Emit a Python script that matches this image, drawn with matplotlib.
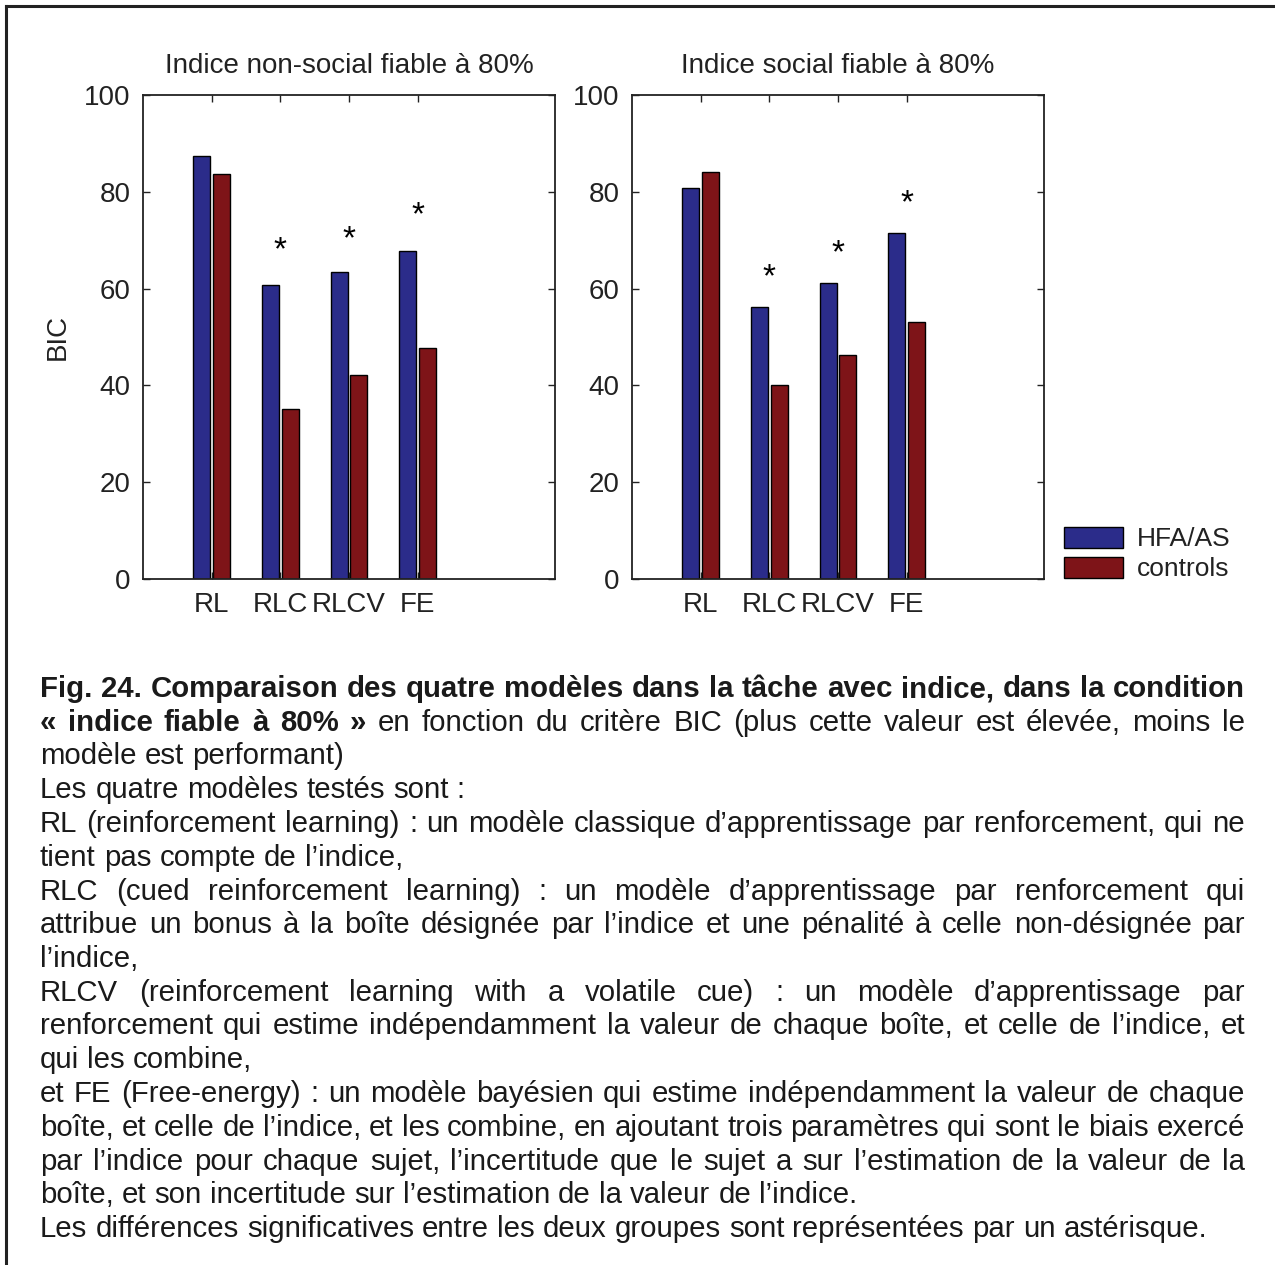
import matplotlib
matplotlib.use("Agg")
import matplotlib.pyplot as plt
from matplotlib.lines import Line2D
from matplotlib.patches import Patch
import numpy as np

plt.rcParams["font.family"] = ["Liberation Sans", "DejaVu Sans"]

# ── Data (BIC per model) ──────────────────────────────────────────────────────
models = ["RL", "RLC", "RLCV", "FE"]
groups = ["HFA/AS", "controls"]

nonsocial_hfa = [87.4, 60.8, 63.4, 67.7]
nonsocial_ctrl = [83.7, 35.2, 42.1, 47.8]
social_hfa = [80.7, 56.3, 61.2, 71.4]
social_ctrl = [84.1, 40.0, 46.3, 53.1]

# asterisk heights (significant group differences), one per model (None = no star)
nonsocial_stars = [None, 68.6, 70.9, 75.8]
social_stars = [None, 63.1, 68.0, 78.4]

titles = ["Indice non-social fiable à 80%", "Indice social fiable à 80%"]

BLUE = "#2b2c8a"
RED = "#7e1418"
INK = "#222222"

W, H = 1275, 1265
fig = plt.figure(figsize=(W / 100, H / 100), dpi=100)

# ── Bar panels ────────────────────────────────────────────────────────────────
AX_TOP, AX_BOT = 95, 579
AX_W = 412
panels = [
    (143, titles[0], nonsocial_hfa, nonsocial_ctrl, nonsocial_stars),
    (632, titles[1], social_hfa, social_ctrl, social_stars),
]
x = np.arange(1, len(models) + 1)
axes = []
for left, title, hfa, ctrl, stars in panels:
    ax = fig.add_axes([left / W, 1 - AX_BOT / H, AX_W / W, (AX_BOT - AX_TOP) / H])
    ax.bar(x - 0.143, hfa, width=0.25, color=BLUE, edgecolor="black", linewidth=1)
    ax.bar(x + 0.143, ctrl, width=0.25, color=RED, edgecolor="black", linewidth=1)
    for xi, s in zip(x, stars):
        if s is not None:
            ax.annotate("*", (xi, s), xytext=(0, -9), textcoords="offset points",
                        ha="center", va="baseline", fontsize=24, color="black")
    ax.set_xlim(0, 6)
    ax.set_ylim(0, 100)
    ax.set_xticks(x)
    ax.set_xticklabels(models)
    ax.set_yticks([0, 20, 40, 60, 80, 100])
    ax.tick_params(direction="in", length=5, width=1, top=True, right=True,
                   labelsize=20, labelcolor=INK, color=INK, pad=9)
    for sp in ax.spines.values():
        sp.set_color(INK)
        sp.set_linewidth(1.3)
    ax.set_title(title, fontsize=20, color=INK, pad=16)
    axes.append(ax)

axes[0].set_ylabel("BIC", fontsize=20, color=INK)
axes[0].yaxis.set_label_coords(-0.175, 0.5)

handles = [Patch(facecolor=BLUE, edgecolor="black"), Patch(facecolor=RED, edgecolor="black")]
axes[1].legend(handles, groups, loc="lower left", bbox_to_anchor=(1 + 20 / AX_W, -0.005),
               frameon=False, borderaxespad=0, borderpad=0, fontsize=19,
               handlelength=2.25, handleheight=0.85, labelspacing=0.2, handletextpad=0.5,
               labelcolor=INK)

# ── Frame (top and left rules) ────────────────────────────────────────────────
fig.add_artist(Line2D([6 / W, 1], [1 - 6 / H] * 2, transform=fig.transFigure,
                      color=INK, lw=2.2))
fig.add_artist(Line2D([6 / W] * 2, [0, 1 - 6 / H], transform=fig.transFigure,
                      color=INK, lw=2.2))

# ── Caption (justified, word by word) ─────────────────────────────────────────
caption = [
    ([("Fig. 24. Comparaison des quatre modèles dans la tâche avec indice, dans la condition", "bold")], True),
    ([("« indice fiable à 80% »", "bold"),
      ("en fonction du critère BIC (plus cette valeur est élevée, moins le", "normal")], True),
    ([("modèle est performant)", "normal")], False),
    ([("Les quatre modèles testés sont :", "normal")], False),
    ([("RL (reinforcement learning) : un modèle classique d’apprentissage par renforcement, qui ne", "normal")], True),
    ([("tient pas compte de l’indice,", "normal")], False),
    ([("RLC (cued reinforcement learning) : un modèle d’apprentissage par renforcement qui", "normal")], True),
    ([("attribue un bonus à la boîte désignée par l’indice et une pénalité à celle non-désignée par", "normal")], True),
    ([("l’indice,", "normal")], False),
    ([("RLCV (reinforcement learning with a volatile cue) : un modèle d’apprentissage par", "normal")], True),
    ([("renforcement qui estime indépendamment la valeur de chaque boîte, et celle de l’indice, et", "normal")], True),
    ([("qui les combine,", "normal")], False),
    ([("et FE (Free-energy) : un modèle bayésien qui estime indépendamment la valeur de chaque", "normal")], True),
    ([("boîte, et celle de l’indice, et les combine, en ajoutant trois paramètres qui sont le biais exercé", "normal")], True),
    ([("par l’indice pour chaque sujet, l’incertitude que le sujet a sur l’estimation de la valeur de la", "normal")], True),
    ([("boîte, et son incertitude sur l’estimation de la valeur de l’indice.", "normal")], False),
    ([("Les différences significatives entre les deux groupes sont représentées par un astérisque.", "normal")], False),
]

X0, X1 = 40, 1245
Y0, DY = 697, 33.75
renderer = fig.canvas.get_renderer()


def text_width(s, fs, weight="normal"):
    t = fig.text(0, 0, s, fontsize=fs, weight=weight)
    w = t.get_window_extent(renderer).width
    t.remove()
    return w


# pick the size so the last (unjustified) line ends where it does in the figure
fs = 18
fs = fs * (1165 / text_width(caption[-1][0][0][0], fs))
space = text_width("a a", fs) - text_width("aa", fs)

for i, (segments, justify) in enumerate(caption):
    words = [(w, wt) for txt, wt in segments for w in txt.split()]
    widths = [text_width(w, fs, wt) for w, wt in words]
    gap = (X1 - X0 - sum(widths)) / (len(words) - 1) if justify else space
    gap = max(gap, 0.5 * space)
    xp = X0
    yp = Y0 + i * DY
    for (w, wt), wd in zip(words, widths):
        fig.text(xp / W, 1 - yp / H, w, fontsize=fs, weight=wt, color="#1a1a1a",
                 ha="left", va="baseline")
        xp += wd + gap

fig.savefig("out.png", dpi=100, facecolor="white")
